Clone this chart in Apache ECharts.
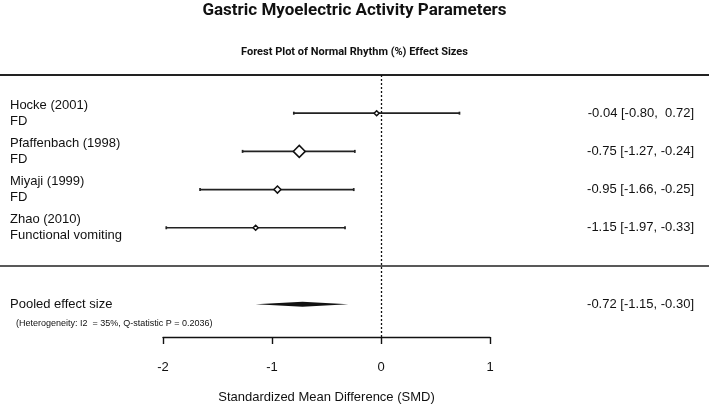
<!DOCTYPE html>
<html>
<head>
<meta charset="utf-8">
<script src="https://cdn.jsdelivr.net/npm/echarts@6/dist/echarts.min.js"></script>
<style>
  html, body { margin: 0; padding: 0; background: #fff; }
  #main { width: 709px; height: 405px; }
</style>
</head>
<body>
<div id="main"></div>
<script>
// study data
var studies = ['Hocke (2001)', 'Pfaffenbach (1998)', 'Miyaji (1999)', 'Zhao (2010)'];
var groups = ['FD', 'FD', 'FD', 'Functional vomiting'];
var smd = [-0.04, -0.75, -0.95, -1.15];
var lower = [-0.80, -1.27, -1.66, -1.97];
var upper = [0.72, -0.24, -0.25, -0.33];
var weights = [5, 12, 7, 5];   // marker size ~ study weight

var pooled = { est: -0.72, lo: -1.15, hi: -0.30 };
var heterogeneity = '(Heterogeneity: I2  = 35%, Q-statistic P = 0.2036)';
var xTicks = [-2, -1, 0, 1];

function fmt(v) {
    return v < 0 ? v.toFixed(2) : ' ' + v.toFixed(2);
}
function ciText(e, lo, hi) {
    return e.toFixed(2) + ' [' + fmt(lo) + ', ' + fmt(hi) + ']';
}

var POOLED_ROW = studies.length + 2;
var SEP_ROW = studies.length + 1;

var leftLabels = {};
var rightLabels = {};
studies.forEach(function (s, i) {
    leftLabels[i + 1] = s + '\n' + groups[i];
    rightLabels[i + 1] = ciText(smd[i], lower[i], upper[i]);
});
leftLabels[POOLED_ROW] = 'Pooled effect size';
leftLabels[POOLED_ROW + 0.5] = '{h|' + heterogeneity + '}';
rightLabels[POOLED_ROW] = ciText(pooled.est, pooled.lo, pooled.hi);

var barData = studies.map(function (s, i) { return [lower[i], upper[i], i + 1]; });
var pointData = studies.map(function (s, i) { return [smd[i], i + 1]; });

var font = 'Liberation Sans, Arial, sans-serif';
var yMax = 6.86;

var myChart = echarts.init(document.getElementById('main'));
var option = {
    animation: false,
    title: [
        {
            text: 'Gastric Myoelectric Activity Parameters',
            left: 'center', top: 2, padding: 0,
            textStyle: { fontFamily: 'Roboto', fontWeight: 'bold', fontSize: 17, color: '#111' }
        },
        {
            text: 'Forest Plot of Normal Rhythm (%) Effect Sizes',
            left: 'center', top: 47, padding: 0,
            textStyle: { fontFamily: 'Roboto', fontWeight: 'bold', fontSize: 11, color: '#111' }
        }
    ],
    grid: [
        { left: 163, right: 219, top: 75, bottom: 68, outerBoundsMode: 'none', containLabel: false },
        { left: 0, right: 0, top: 75, bottom: 68, outerBoundsMode: 'none', containLabel: false }
    ],
    xAxis: [
        {
            gridIndex: 0, type: 'value', min: -2, max: 1, interval: 1,
            position: 'bottom',
            axisLine: { onZero: false, lineStyle: { color: '#111', width: 1.4 } },
            axisTick: { length: 7, lineStyle: { color: '#111', width: 1.4 } },
            axisLabel: { fontFamily: font, fontSize: 13, color: '#111', margin: 24 },
            splitLine: { show: false },
            name: 'Standardized Mean Difference (SMD)',
            nameLocation: 'middle', nameGap: 54,
            nameTextStyle: { fontFamily: font, fontSize: 13, color: '#111' }
        },
        {
            gridIndex: 1, type: 'value', min: 0, max: 1, show: false
        }
    ],
    yAxis: [
        {
            gridIndex: 0, type: 'value', min: 0, max: yMax, interval: 0.5, inverse: true,
            axisLine: { show: false }, axisTick: { show: false }, splitLine: { show: false },
            axisLabel: {
                align: 'left', margin: 153, fontFamily: font, fontSize: 13, color: '#111',
                lineHeight: 16,
                formatter: function (v) { return leftLabels[v] || ''; },
                rich: { h: { fontFamily: font, fontSize: 9, color: '#111', padding: [0, 0, 0, 6] } }
            }
        },
        {
            gridIndex: 0, type: 'value', min: 0, max: yMax, interval: 0.5, inverse: true,
            position: 'right',
            axisLine: { show: false }, axisTick: { show: false }, splitLine: { show: false },
            axisLabel: {
                align: 'right', margin: 204, fontFamily: font, fontSize: 13, color: '#111',
                formatter: function (v) { return rightLabels[v] || ''; }
            }
        },
        {
            gridIndex: 1, type: 'value', min: 0, max: yMax, inverse: true, show: false
        }
    ],
    series: [
        {
            type: 'line', xAxisIndex: 1, yAxisIndex: 2, symbol: 'none', silent: true,
            lineStyle: { color: '#222', width: 2 },
            data: [[0, 0], [1, 0]]
        },
        {
            type: 'line', xAxisIndex: 1, yAxisIndex: 2, symbol: 'none', silent: true,
            lineStyle: { color: '#222', width: 1.6 },
            data: [[0, SEP_ROW], [1, SEP_ROW]]
        },
        {
            type: 'custom', xAxisIndex: 0, yAxisIndex: 0,
            encode: { x: [0, 1], y: 2 },
            data: barData,
            renderItem: function (params, api) {
                var a = api.coord([api.value(0), api.value(2)]);
                var b = api.coord([api.value(1), api.value(2)]);
                var st = { stroke: '#222', lineWidth: 1.7 };
                return {
                    type: 'group',
                    children: [
                        { type: 'line', shape: { x1: a[0], y1: a[1], x2: b[0], y2: b[1] }, style: st },
                        { type: 'line', shape: { x1: a[0], y1: a[1] - 1.5, x2: a[0], y2: a[1] + 1.5 }, style: st },
                        { type: 'line', shape: { x1: b[0], y1: b[1] - 1.5, x2: b[0], y2: b[1] + 1.5 }, style: st }
                    ]
                };
            }
        },
        {
            type: 'scatter', xAxisIndex: 0, yAxisIndex: 0,
            symbol: 'diamond',
            symbolSize: function (val, p) { return weights[p.dataIndex]; },
            itemStyle: { color: '#fff', borderColor: '#111', borderWidth: 1.5, opacity: 1 },
            data: pointData,
            z: 5,
            markLine: {
                silent: true, symbol: 'none', label: { show: false },
                lineStyle: { type: [2, 2], color: '#111', width: 1.3 },
                data: [{ xAxis: 0 }]
            }
        },
        {
            type: 'custom', xAxisIndex: 0, yAxisIndex: 0,
            encode: { x: [0, 1, 2], y: 3 },
            data: [[pooled.lo, pooled.est, pooled.hi, POOLED_ROW]],
            renderItem: function (params, api) {
                var row = api.value(3);
                var l = api.coord([api.value(0), row]);
                var m = api.coord([api.value(1), row]);
                var r = api.coord([api.value(2), row]);
                return {
                    type: 'polygon',
                    shape: { points: [l, [m[0], m[1] - 2.5], r, [m[0], m[1] + 2.5]] },
                    style: { fill: '#111' }
                };
            }
        }
    ]
};
myChart.setOption(option);
</script>
</body>
</html>
